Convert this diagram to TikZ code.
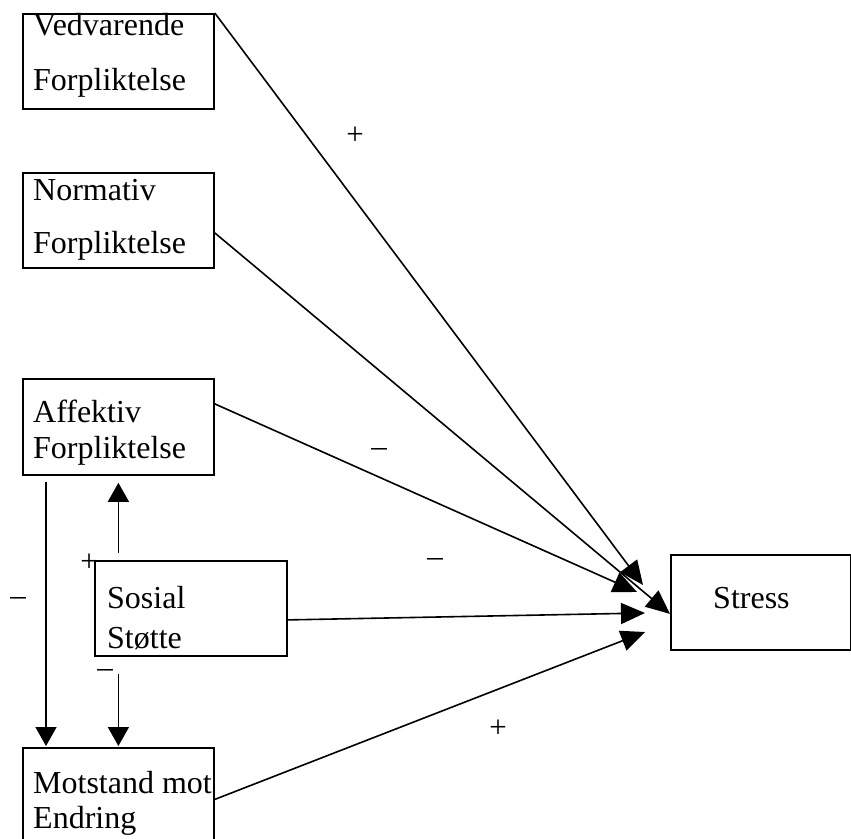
\documentclass[tikz,border=0pt]{standalone}
\usepackage{fontspec}
\setmainfont{Liberation Serif}
\usetikzlibrary{arrows.meta}
\begin{document}
\begin{tikzpicture}[x=1pt,y=-1pt,
  box/.style={draw, line width=1.8pt, rectangle, anchor=north west, inner sep=0pt, minimum width=191pt, minimum height=95pt},
  txt/.style={anchor=base west, inner sep=0pt, font=\fontsize{32}{36}\selectfont},
  sgn/.style={anchor=center, inner sep=0pt, font=\fontsize{31}{34}\selectfont},
  conn/.style={line width=1.6pt, -{Triangle[length=24pt,width=21pt]}},
  vconn/.style={line width=1.6pt, -{Triangle[length=19pt,width=21pt]}}]
\clip (0,0) rectangle (851,838);
\fill[white] (0,0) rectangle (851,838);
% boxes
\node[box] (ved) at (22,13) {};
\node[box] (norm) at (22,172) {};
\node[box, minimum height=96pt] (aff) at (22,378) {};
\node[box, minimum width=192pt] (sos) at (94,560) {};
\node[box, minimum height=103pt] (mot) at (22,747) {};
\node[box, minimum width=180pt] (str) at (670,554) {};
% texts
\node[txt] (t1) at (33,35) {Vedvarende};
\node[txt] (t2) at (33,90) {Forpliktelse};
\node[txt] (t3) at (33,200) {Normativ};
\node[txt] (t4) at (33,253) {Forpliktelse};
\node[txt] (t5) at (33,422) {Affektiv};
\node[txt] (t6) at (33,458) {Forpliktelse};
\node[txt] (t7) at (107,608) {Sosial};
\node[txt] (t8) at (107,648) {Støtte};
\node[txt] (t9) at (33,793) {Motstand mot};
\node[txt] (t10) at (33,828) {Endring};
\node[txt] (t11) at (713,608) {Stress};
% free ends
\coordinate (e1) at (643,585);
\coordinate (e3) at (637,592);
\coordinate (e4) at (645,613);
\coordinate (e5) at (645,632);
% connectors to Stress
\draw[conn] (ved.north east) -- (e1);
\draw[conn] ([yshift=-12.5pt]norm.east) -- ([yshift=-11.5pt]str.west);
\draw[conn] ([yshift=23pt]aff.east) -- (e3);
\draw[conn] ([yshift=-11.5pt]sos.east) -- (e4);
\draw[conn] (mot.east) -- (e5);
% vertical connectors
\draw[vconn, shorten <=6pt, shorten >=1pt] ([xshift=24pt]aff.south west) -- ([xshift=24pt]mot.north west);
\draw[vconn, shorten <=7pt, shorten >=7pt] (aff.south |- sos.north) -- (aff.south);
\draw[vconn, shorten <=17pt, shorten >=1pt] (aff.south |- sos.south) -- (aff.south |- mot.north);
% signs
\node[sgn] (s1) at (355,136) {+};
\node[sgn] (s2) at (379,452) {–};
\node[sgn] (s3) at (435,562) {–};
\node[sgn] (s4) at (18,601) {–};
\node[sgn] (s5) at (105,673) {–};
\node[sgn] (s6) at (89,563) {+};
\node[sgn] (s7) at (498,729) {+};
\end{tikzpicture}
\end{document}
